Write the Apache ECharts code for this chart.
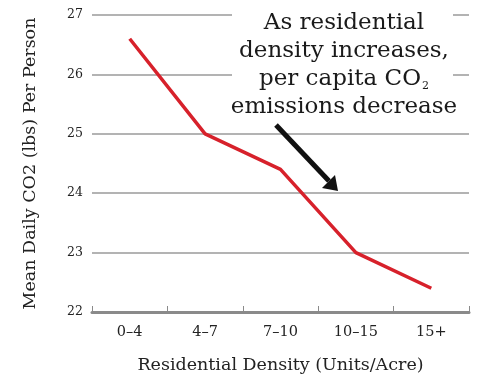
<!DOCTYPE html>
<html>
<head>
<meta charset="utf-8">
<style>
  html, body { margin: 0; padding: 0; background: #fff; }
  #chart { width: 480px; height: 377px; }
</style>
<script src="https://cdn.jsdelivr.net/npm/echarts@6/dist/echarts.min.js"></script>
</head>
<body>
<div id="chart"></div>
<script>
// Residential density bins and mean daily CO2 per person (lbs)
const densityBins = ['0–4', '4–7', '7–10', '10–15', '15+'];
const meanDailyCO2 = [26.6, 25.0, 24.4, 23.0, 22.4];
const yTicks = [22, 23, 24, 25, 26, 27];

const FONT = '"DejaVu Serif", "Liberation Serif", serif';

const chart = echarts.init(document.getElementById('chart'), null, { renderer: 'canvas' });

chart.setOption({
  animation: false,
  backgroundColor: '#fff',
  grid: { left: 92, right: 11, top: 15, bottom: 65, outerBoundsMode: 'none' },
  xAxis: {
    type: 'category',
    data: densityBins,
    boundaryGap: true,
    name: 'Residential Density (Units/Acre)',
    nameLocation: 'middle',
    nameGap: 44,
    nameTextStyle: { fontFamily: FONT, fontSize: 17.5, color: '#222' },
    axisLine: { show: true, lineStyle: { color: '#8a8a8a', width: 3 } },
    axisTick: { show: true, inside: true, length: 6, lineStyle: { color: '#8a8a8a', width: 1 } },
    axisLabel: { fontFamily: FONT, fontSize: 14.5, color: '#222', margin: 13 },
    splitLine: { show: false }
  },
  yAxis: {
    type: 'value',
    min: yTicks[0],
    max: yTicks[yTicks.length - 1],
    interval: 1,
    name: 'Mean Daily CO2 (lbs) Per Person',
    nameLocation: 'middle',
    nameGap: 53,
    nameRotate: 90,
    nameTextStyle: { fontFamily: FONT, fontSize: 17.5, color: '#222' },
    axisLine: { show: false },
    axisTick: { show: false },
    axisLabel: { fontFamily: FONT, fontSize: 12.5, color: '#222', margin: 9 },
    splitLine: { show: true, lineStyle: { color: '#9a9a9a', width: 1.5 } }
  },
  series: [{
    type: 'line',
    data: meanDailyCO2,
    symbol: 'none',
    lineStyle: { color: '#d7212b', width: 3.5 },
    z: 3
  }],
  graphic: [
    {
      type: 'rect',
      shape: { x: 232, y: 4, width: 221, height: 122 },
      style: { fill: '#fff' },
      z: 10
    },
    {
      type: 'text',
      x: 344,
      y: 9,
      z: 11,
      style: {
        text: 'As residential\ndensity increases,\nper capita CO{sub|2}\nemissions decrease',
        fontFamily: FONT,
        fontSize: 23,
        lineHeight: 28,
        fill: '#1a1a1a',
        align: 'center',
        verticalAlign: 'top',
        rich: {
          sub: { fontFamily: FONT, fontSize: 11, fill: '#1a1a1a', padding: [14, 0, 0, 1] }
        }
      }
    },
    {
      type: 'line',
      shape: { x1: 276, y1: 125, x2: 329, y2: 181 },
      style: { stroke: '#111', lineWidth: 5 },
      z: 11
    },
    {
      type: 'polygon',
      shape: { points: [[338, 191], [322, 188], [335, 175]] },
      style: { fill: '#111' },
      z: 11
    }
  ]
});
</script>
</body>
</html>
